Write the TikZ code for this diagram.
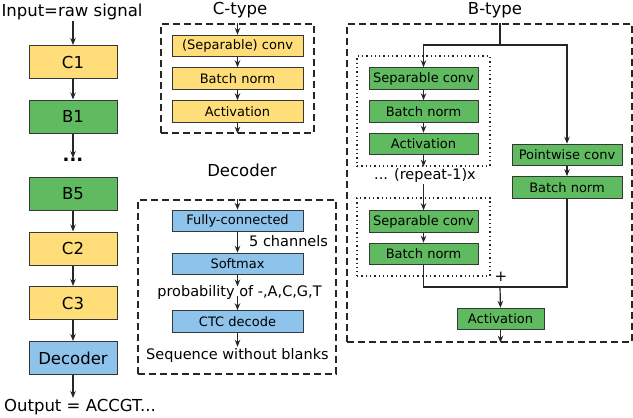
\documentclass[tikz,border=0pt]{standalone}
\usepackage{fontspec}
\setmainfont{DejaVu Sans}
\usetikzlibrary{arrows.meta}
\definecolor{cyel}{RGB}{255,222,122}
\definecolor{cgrn}{RGB}{96,187,96}
\definecolor{cblu}{RGB}{142,196,236}
\definecolor{bord}{RGB}{55,55,55}
\begin{document}
\begin{tikzpicture}[x=1pt,y=-1pt,
  arr/.style={-{Stealth[length=7pt,width=5.5pt]}, line width=1.2pt, draw=black!85},
  ln/.style={line width=1.2pt, draw=black!85},
  bx/.style={draw=bord, line width=1pt, inner sep=0pt, anchor=center},
  bigbox/.style={bx, minimum width=88pt, minimum height=33pt, font=\fontsize{16.5}{17}\selectfont},
  smallbox/.style={bx, minimum height=21.5pt, font=\fontsize{13}{14}\selectfont},
  lbl/.style={inner sep=1pt, font=\fontsize{16.5}{17}\selectfont},
  midlbl/.style={inner sep=1pt, font=\fontsize{14.5}{15}\selectfont},
  dashbox/.style={draw=black!85, line width=1.4pt, dash pattern=on 7pt off 4pt},
  dotbox/.style={draw=black!85, line width=1.3pt, dash pattern=on 1.3pt off 3pt}]
\useasboundingbox (0,0) rectangle (633,418);

% ---------- left column ----------
\node[lbl] (inp) at (72,12) {Input=raw signal};
\node[bigbox, fill=cyel] (c1) at (73,62) {C1};
\node[bigbox, fill=cgrn] (b1) at (73,116.5) {B1};
\node[inner sep=0pt, font=\fontsize{18}{18}\selectfont\bfseries] (dots) at (73,160) {...};
\node[bigbox, fill=cgrn] (b5) at (73,193.5) {B5};
\node[bigbox, fill=cyel] (c2) at (73,248.5) {C2};
\node[bigbox, fill=cyel] (c3) at (73,303) {C3};
\node[bigbox, fill=cblu] (dec) at (73,358) {Decoder};
\node[lbl] (out) at (80,407) {Output = ACCGT...};
\draw[arr] (inp.south -| c1.north) -- (c1.north);
\draw[arr] (c1) -- (b1);
\draw[arr] (b1.south) -- (73,158);
\draw[arr] (b5) -- (c2);
\draw[arr] (c2) -- (c3);
\draw[arr] (c3) -- (dec);
\draw[arr] (dec.south) -- (out.north -| dec.south);

% ---------- C-type ----------
\node[lbl] (ctitle) at (240,10) {C-type};
\node[dashbox, minimum width=153pt, minimum height=109pt, inner sep=0pt] (cbox) at (237.5,78.5) {};
\node[smallbox, fill=cyel, minimum width=131pt] (csep) at (237.5,46) {(Separable) conv};
\node[smallbox, fill=cyel, minimum width=131pt] (cbn) at (237.5,78.5) {Batch norm};
\node[smallbox, fill=cyel, minimum width=131pt] (cact) at (237.5,111.5) {Activation};
\draw[arr] (cbox.north) -- (csep.north);
\draw[arr] (csep) -- (cbn);
\draw[arr] (cbn) -- (cact);
\draw[arr] (cact.south) -- (cbox.south);

% ---------- Decoder ----------
\node[lbl] (dtitle) at (242,170) {Decoder};
\node[dashbox, minimum width=198pt, minimum height=174pt, inner sep=0pt] (dbox) at (237,287) {};
\node[smallbox, fill=cblu, minimum width=131pt] (fc) at (237.5,221) {Fully-connected};
\node[midlbl, anchor=west] (ch) at (248,241) {5 channels};
\node[smallbox, fill=cblu, minimum width=131pt] (sm) at (237.5,264) {Softmax};
\node[midlbl] (prob) at (239.5,292) {probability of -,A,C,G,T};
\node[smallbox, fill=cblu, minimum width=131pt] (ctc) at (237.5,321.5) {CTC decode};
\node[midlbl] (seq) at (237.5,355) {Sequence without blanks};
\draw[arr] (dbox.north -| fc.north) -- (fc.north);
\draw[arr] (fc) -- (sm);
\draw[arr] (sm.south) -- (237.5,286.5);
\draw[arr] (237.5,296) -- (ctc.north);
\draw[arr] (ctc.south) -- (seq.north -| ctc.south);

% ---------- B-type ----------
\node[lbl] (btitle) at (495,10) {B-type};
\node[dashbox, minimum width=285pt, minimum height=318pt, inner sep=0pt] (bbox) at (489.5,183) {};
\node[dotbox, minimum width=133pt, minimum height=110pt, inner sep=0pt] (dot1) at (423.5,111) {};
\node[dotbox, minimum width=133pt, minimum height=78pt, inner sep=0pt] (dot2) at (423.5,237) {};
\node[smallbox, fill=cgrn, minimum width=109pt] (sep1) at (423.5,78.5) {Separable conv};
\node[smallbox, fill=cgrn, minimum width=109pt] (bn1) at (423.5,111.5) {Batch norm};
\node[smallbox, fill=cgrn, minimum width=109pt] (act1) at (423.5,144) {Activation};
\node[midlbl] (rep) at (425,176) {... (repeat-1)x};
\node[smallbox, fill=cgrn, minimum width=109pt] (sep2) at (423.5,221.5) {Separable conv};
\node[smallbox, fill=cgrn, minimum width=109pt] (bn2) at (423.5,254) {Batch norm};
\node[smallbox, fill=cgrn, minimum width=110pt] (pw) at (567,155) {Pointwise conv};
\node[smallbox, fill=cgrn, minimum width=110pt] (bnr) at (567,187.5) {Batch norm};
\node[smallbox, fill=cgrn, minimum width=87pt] (actf) at (500.5,319) {Activation};
\node[inner sep=0pt, font=\fontsize{15}{15}\selectfont] (plus) at (501,277) {+};
\coordinate (split) at (500,45);
\coordinate (join) at (500,287);
\draw[ln] (bbox.north -| split) -- (split);
\draw[arr] (split) -| (sep1.north);
\draw[arr] (split) -| (pw.north);
\draw[arr] (sep1) -- (bn1);
\draw[arr] (bn1) -- (act1);
\draw[arr] (act1.south) -- (dot1.south -| act1.south);
\draw[arr] (rep.south -| sep2.north) -- (sep2.north);
\draw[arr] (sep2) -- (bn2);
\draw[arr] (pw) -- (bnr);
\draw[ln] (bn2.south) |- (join) -| (bnr.south);
\draw[arr] (join) -- (actf.north);
\draw[arr] (actf.south) -- (bbox.south -| actf.south);
\end{tikzpicture}
\end{document}
